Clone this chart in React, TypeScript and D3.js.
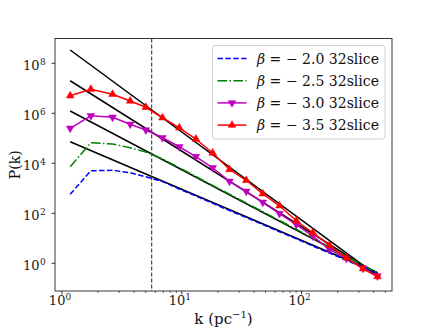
import React from "react";
import * as d3 from "d3";

// wavenumber bins (pc^-1), shared by all series
const kBins = [1.17, 1.74, 2.64, 3.71, 5.01, 6.9, 9.53, 13.1, 18.1, 25.0, 34.5, 47.4, 65.4, 90.3, 124, 171, 237, 326, 430];

// log10 P(k) for each beta
const beta20 = [2.76, 3.7, 3.72, 3.62, 3.46, 3.27, 2.97, 2.69, 2.4, 2.11, 1.83, 1.55, 1.26, 0.98, 0.69, 0.41, 0.12, -0.16, -0.4];
const beta25 = [3.86, 4.82, 4.77, 4.62, 4.45, 4.17, 3.82, 3.47, 3.11, 2.76, 2.41, 2.06, 1.71, 1.36, 1.01, 0.65, 0.29, -0.07, -0.4];
const beta30 = [5.4, 5.9, 5.84, 5.56, 5.33, 5.02, 4.66, 4.27, 3.82, 3.28, 2.88, 2.44, 1.99, 1.55, 1.09, 0.55, 0.2, -0.2, -0.51];
const beta35 = [6.7, 6.96, 6.76, 6.49, 6.24, 5.82, 5.42, 4.97, 4.41, 3.75, 3.32, 2.78, 2.3, 1.7, 1.22, 0.72, 0.22, -0.22, -0.53];

// black reference power laws: log10 P at first and last k bin
const refStart = [8.53, 7.3, 6.09, 4.86];
const refEnd = [-0.5, -0.45, -0.38, -0.38];

const legendLabels = ["2.0", "2.5", "3.0", "3.5"];
const kCut = 5.6;

const xTicks = [1, 10, 100];
const yTicks = [0, 2, 4, 6, 8];

const W = 436, H = 327;
const L = 55, R = 392, T = 38.5, B = 291;
const font = "DejaVu Serif";

const series = [
  { vals: beta20, color: "#0000ff", dash: "5.5,2.4", marker: null },
  { vals: beta25, color: "#008000", dash: "9.6,2.4,1.5,2.4", marker: null },
  { vals: beta30, color: "#bf00bf", dash: null, marker: "down" },
  { vals: beta35, color: "#ff0000", dash: null, marker: "up" },
];

const App = () => {
  const x = d3.scaleLog().domain([0.874, 568]).range([L, R]);
  const y = d3.scaleLog().domain([Math.pow(10, -1.108), Math.pow(10, 8.99)]).range([B, T]);

  const line = d3.line<[number, number]>()
    .x(d => x(d[0]))
    .y(d => y(Math.pow(10, d[1])));

  const tri = d3.symbol().type(d3.symbolTriangle).size(26)();

  const minorX: number[] = [];
  xTicks.forEach(d => {
    for (let m = 2; m <= 9; m++) {
      const v = d * m;
      if (v < 568) minorX.push(v);
    }
  });

  const kLast = kBins[kBins.length - 1];

  const marker = (kind: string | null, cx: number, cy: number, color: string, key: any) => {
    if (!kind) return null;
    return (
      <path key={key} d={tri || ""} fill={color} stroke={color} strokeWidth={0.5}
        transform={`translate(${cx},${cy})${kind === "down" ? " rotate(180)" : ""}`} />
    );
  };

  return (
    <svg width={W} height={H} style={{ position: "absolute", left: 0, top: 0, background: "#fff" }}>
      <defs>
        <clipPath id="plot">
          <rect x={L} y={T} width={R - L} height={B - T} />
        </clipPath>
      </defs>

      <g clipPath="url(#plot)">
        {refStart.map((s, i) => (
          <path key={"ref" + i} d={line([[kBins[0], s], [kLast, refEnd[i]]]) || ""}
            fill="none" stroke="#000" strokeWidth={1.5} />
        ))}
        <line x1={x(kCut)} x2={x(kCut)} y1={T} y2={B} stroke="#444" strokeWidth={1.2} strokeDasharray="4,2" />
        {series.map((s, i) => (
          <g key={"s" + i}>
            <path d={line(kBins.map((k, j) => [k, s.vals[j]] as [number, number])) || ""}
              fill="none" stroke={s.color} strokeWidth={1.5} strokeDasharray={s.dash || undefined} />
            {kBins.map((k, j) => marker(s.marker, x(k), y(Math.pow(10, s.vals[j])), s.color, j))}
          </g>
        ))}
      </g>

      {/* frame */}
      <rect x={L} y={T} width={R - L} height={B - T} fill="none" stroke="#222" strokeWidth={0.9} />

      {/* x ticks */}
      {xTicks.map(t => (
        <g key={"xt" + t}>
          <line x1={x(t)} x2={x(t)} y1={B} y2={B + 3.5} stroke="#000" strokeWidth={0.8} />
          <text x={x(t) - 2} y={305} textAnchor="middle" fontFamily={font} fontSize={13} fill="#222">
            10<tspan fontSize={9} dy={-5}>{Math.log10(t)}</tspan>
          </text>
        </g>
      ))}
      {minorX.map(t => (
        <line key={"xm" + t} x1={x(t)} x2={x(t)} y1={B} y2={B + 2} stroke="#000" strokeWidth={0.6} />
      ))}

      {/* y ticks */}
      {yTicks.map(t => (
        <g key={"yt" + t}>
          <line x1={L - 3.5} x2={L} y1={y(Math.pow(10, t))} y2={y(Math.pow(10, t))} stroke="#000" strokeWidth={0.8} />
          <text x={39.5} y={y(Math.pow(10, t)) + 7} textAnchor="end" fontFamily={font} fontSize={13} fill="#222">10</text>
          <text x={40} y={y(Math.pow(10, t)) + 1.5} textAnchor="start" fontFamily={font} fontSize={9} fill="#222">{t}</text>
        </g>
      ))}

      {/* axis labels */}
      <text transform={`translate(20,${(T + B) / 2}) rotate(-90)`} textAnchor="middle" fontFamily={font} fontSize={14} fill="#111">P(k)</text>
      <text x={(L + R) / 2} y={323.5} textAnchor="middle" fontFamily={font} fontSize={15} fill="#111">
        k (pc<tspan fontSize={10} dy={-6}>−1</tspan><tspan dy={6}>)</tspan>
      </text>

      {/* legend */}
      <rect x={212.5} y={45.5} width={172.5} height={93.5} rx={3} fill="#fff" fillOpacity={0.85} stroke="#ccc" strokeWidth={0.9} />
      {series.map((s, i) => {
        const cy = 58.5 + i * 22.2;
        return (
          <g key={"lg" + i}>
            <line x1={217.5} x2={246.5} y1={cy} y2={cy} stroke={s.color} strokeWidth={1.5} strokeDasharray={s.dash || undefined} />
            {marker(s.marker, 232, cy, s.color, "m")}
            <text x={257} y={cy + 5} fontFamily={font} fontSize={14.5} fill="#111" textLength={122} lengthAdjust="spacingAndGlyphs">
              <tspan fontStyle="italic">β</tspan> = − {legendLabels[i]} 32slice
            </text>
          </g>
        );
      })}
    </svg>
  );
};

export default App;
